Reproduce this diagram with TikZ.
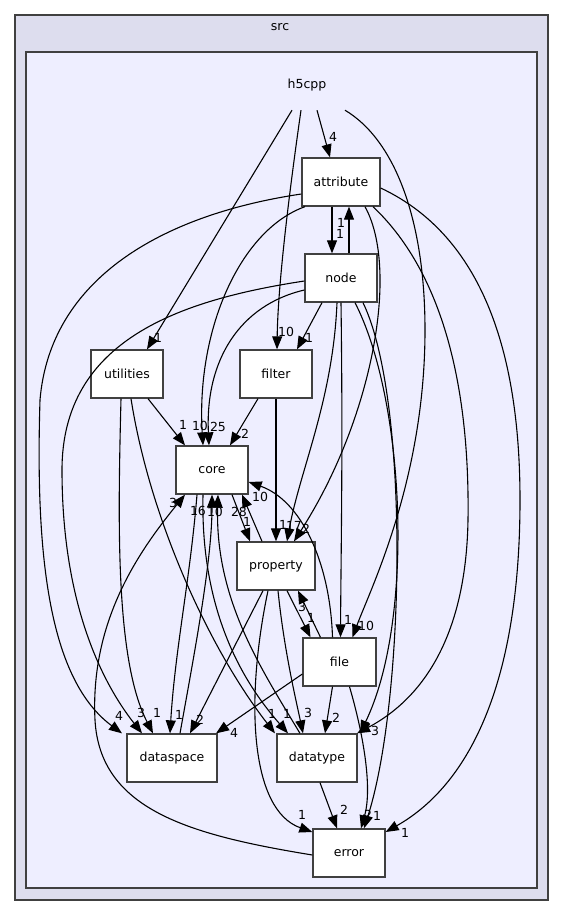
\documentclass[tikz,border=0pt]{standalone}
\usepackage{fontspec}
\setmainfont{DejaVu Sans}
\usetikzlibrary{arrows.meta}
\definecolor{outerfill}{HTML}{DDDDEE}
\definecolor{innerfill}{HTML}{EEEEFF}
\definecolor{framecol}{HTML}{404040}
\tikzset{
  box/.style={draw=framecol, line width=1.3pt, fill=white, minimum height=48pt, inner sep=0pt, font=\fontsize{12.5}{14}\selectfont},
  lab/.style={inner sep=0pt, font=\fontsize{12.5}{14}\selectfont},
  edge/.style={draw=black, line width=1.1pt, -{Triangle[length=13pt,width=10pt]}},
  cluster/.style={draw=framecol, line width=1.3pt}
}
\begin{document}
\begin{tikzpicture}[x=1pt,y=-1pt]
\useasboundingbox (0,0) rectangle (563,916);
\path[cluster, fill=outerfill] (15,15) rectangle (548,900);
\path[cluster, fill=innerfill] (26,52) rectangle (537,888);
\node[lab] (src) at (280,27) {src};
\node[lab, minimum height=50pt, minimum width=80pt] (h5cpp) at (307,85) {h5cpp};

\node[box, minimum width=78pt] (attribute) at (341,182) {attribute};
\node[box, minimum width=72pt] (node) at (341,278) {node};
\node[box, minimum width=72pt] (utilities) at (127,374) {utilities};
\node[box, minimum width=72pt] (filter) at (276,374) {filter};
\node[box, minimum width=72pt] (core) at (212,470) {core};
\node[box, minimum width=78pt] (property) at (276,566) {property};
\node[box, minimum width=73pt] (file) at (339.5,662) {file};
\node[box, minimum width=90pt] (dataspace) at (172,758) {dataspace};
\node[box, minimum width=80pt] (datatype) at (317,758) {datatype};
\node[box, minimum width=72pt] (error) at (349,853) {error};

% h5cpp
\draw[edge] ([xshift=10pt]h5cpp.south) -- ([xshift=-11pt]attribute.north);
\node[lab] (l1) at (333,137) {4};
\draw[edge] ([xshift=-15pt]h5cpp.south) -- ([xshift=20pt]utilities.north);
\node[lab] (l2) at (158,338) {1};
\draw[edge] ([xshift=-6pt]h5cpp.south) .. controls (291,180) and (278,280) .. ([xshift=1pt]filter.north);
\node[lab] (l3) at (286,332) {10};
\draw[edge] ([xshift=38pt]h5cpp.south) .. controls (395,140) and (425,220) .. (425,330) .. controls (425,480) and (370,590) .. ([xshift=13pt]file.north);
\node[lab] (l4) at (366,626) {10};

% attribute
\draw[edge] ([xshift=-9pt]attribute.south) -- ([xshift=-9pt]node.north);
\node[lab] (l5) at (340,234) {1};
\draw[edge] ([xshift=8pt]node.north) -- ([xshift=8pt]attribute.south);
\node[lab] (l6) at (341,223) {1};
\draw[edge] ([xshift=-36pt]attribute.south) .. controls (240,230) and (196,330) .. ([xshift=-9pt]core.north);
\node[lab] (l7) at (200,426) {10};
\draw[edge] ([yshift=-12pt]attribute.west) .. controls (160,215) and (50,280) .. (40,400) .. controls (35,560) and (50,680) .. ([xshift=-50pt]dataspace.north);
\node[lab] (l8) at (119,716) {4};
\draw[edge] ([xshift=24pt]attribute.south) .. controls (400,270) and (372,420) .. ([xshift=18pt]property.north);
\node[lab] (l9) at (306,529) {2};
\draw[edge] ([xshift=32pt]attribute.south) .. controls (440,270) and (470,380) .. (468,520) .. controls (466,640) and (420,700) .. ([xshift=40pt]datatype.north);
\node[lab] (l10) at (375,731) {3};
\draw[edge] ([yshift=-6pt]attribute.east) .. controls (470,230) and (520,330) .. (520,500) .. controls (520,700) and (460,790) .. ([yshift=21pt]error.east);
\node[lab] (l11) at (405,833) {1};

% node
\draw[edge] ([yshift=-12pt]node.west) .. controls (240,305) and (205,360) .. ([xshift=-3pt]core.north);
\node[lab] (l12) at (218,427) {25};
\draw[edge] ([xshift=-19pt]node.south) -- ([xshift=21pt]filter.north);
\node[lab] (l13) at (309,338) {1};
\draw[edge] ([yshift=-3pt]node.west) .. controls (180,300) and (62,340) .. (62,470) .. controls (62,600) and (100,680) .. ([xshift=-30pt]dataspace.north);
\node[lab] (l14) at (141,713) {3};
\draw[edge] ([xshift=-4pt]node.south) .. controls (333,400) and (300,470) .. ([xshift=11pt]property.north);
\node[lab] (l15) at (294,526) {17};
\draw[edge] (node.south) .. controls (343,450) and (341,550) .. ([xshift=1pt]file.north);
\node[lab] (l16) at (348,620) {1};
\draw[edge] ([xshift=14pt]node.south) .. controls (405,400) and (415,620) .. ([xshift=43pt]datatype.north);
\node[lab] (l17) at (367,727) {2};
\draw[edge] ([xshift=22pt]node.south) .. controls (410,400) and (405,700) .. ([xshift=15pt]error.north);
\node[lab] (l18) at (368,815) {2};

% utilities
\draw[edge] ([xshift=21pt]utilities.south) -- ([xshift=-27pt]core.north);
\node[lab] (l19) at (183,425) {1};
\draw[edge] ([xshift=-6pt]utilities.south) .. controls (118,520) and (115,660) .. ([xshift=-19pt]dataspace.north);
\node[lab] (l20) at (157,713) {1};
\draw[edge] ([xshift=4pt]utilities.south) .. controls (150,520) and (210,650) .. ([xshift=-42pt]datatype.north);
\node[lab] (l21) at (272,714) {1};

% filter
\draw[edge] ([xshift=-18pt]filter.south) -- ([xshift=18pt]core.north);
\node[lab] (l22) at (245,434) {2};
\draw[edge] (filter.south) -- (property.north);
\node[lab] (l23) at (283,525) {1};

% core / property
\draw[edge] ([xshift=20pt]core.south) -- ([xshift=-26pt]property.north);
\node[lab] (l24) at (247,522) {1};
\draw[edge] ([xshift=-14pt]property.north) -- ([xshift=30pt]core.south);
\node[lab] (l25) at (239,512) {28};
\draw[edge] ([xshift=-15pt]core.south) .. controls (190,580) and (175,650) .. ([xshift=-2pt]dataspace.north);
\node[lab] (l26) at (179,715) {1};
\draw[edge] ([xshift=8pt]dataspace.north) .. controls (195,650) and (212,560) .. (core.south);
\node[lab] (l27) at (198,511) {16};
\draw[edge] ([xshift=-9pt]core.south) .. controls (200,620) and (250,690) .. ([xshift=-29pt]datatype.north);
\node[lab] (l28) at (287,714) {1};
\draw[edge] ([xshift=-17pt]datatype.north) .. controls (262,670) and (215,600) .. ([xshift=6pt]core.south);
\node[lab] (l29) at (215,512) {10};

% property
\draw[edge] ([xshift=-13pt]property.south) -- ([xshift=18pt]dataspace.north);
\node[lab] (l30) at (200,720) {2};
\draw[edge] ([xshift=2pt]property.south) .. controls (284,650) and (296,700) .. ([xshift=-14pt]datatype.north);
\node[lab] (l31) at (308,713) {3};
\draw[edge] ([xshift=11pt]property.south) -- ([xshift=-29pt]file.north);
\node[lab] (l32) at (311,618) {1};
\draw[edge] ([xshift=-19pt]file.north) -- ([xshift=22pt]property.south);
\node[lab] (l33) at (302,607) {3};
\draw[edge] ([xshift=-8pt]property.south) .. controls (245,700) and (250,810) .. ([yshift=21pt]error.west);
\node[lab] (l34) at (302,815) {1};

% file
\draw[edge] ([yshift=-12pt]file.west) -- ([xshift=44pt]dataspace.north);
\node[lab] (l35) at (234,733) {4};
\draw[edge] ([xshift=-7pt]file.south) -- ([xshift=8pt]datatype.north);
\node[lab] (l36) at (336,718) {2};
\draw[edge] ([xshift=10pt]file.south) .. controls (365,740) and (372,790) .. ([xshift=12pt]error.north);
\node[lab] (l37) at (377,816) {1};
\draw[edge] ([xshift=-7pt]file.north) .. controls (330,560) and (300,500) .. ([yshift=-12pt]core.east);
\node[lab] (l38) at (260,497) {10};

% datatype / error
\draw[edge] ([xshift=3pt]datatype.south) -- ([xshift=-12pt]error.north);
\node[lab] (l39) at (344,810) {2};
\draw[edge] ([yshift=-2pt]error.west) .. controls (190,835) and (100,810) .. (95,720) .. controls (90,620) and (140,550) .. ([xshift=-27pt]core.south);
\node[lab] (l40) at (173,503) {3};
\end{tikzpicture}
\end{document}
